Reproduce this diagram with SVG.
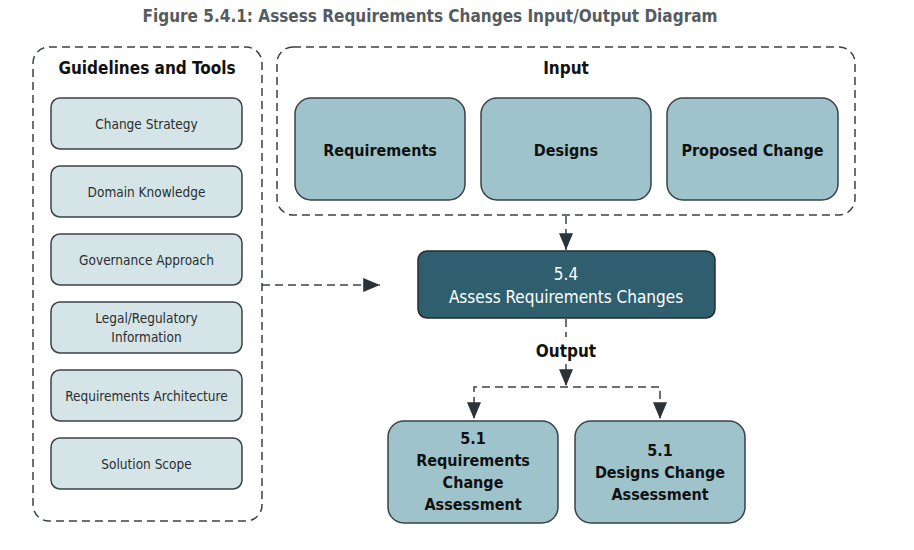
<svg xmlns="http://www.w3.org/2000/svg" width="914" height="550" viewBox="0 0 914 550">
<defs>
<marker id="ahb" viewBox="0 0 12 10" refX="12" refY="5" markerWidth="18" markerHeight="14" markerUnits="userSpaceOnUse" orient="auto">
<path d="M0,0 L12,5 L0,10 Z" fill="#2b3238"/>
</marker>
</defs>
<style>
.t{font-family:"Liberation Sans Narrow","DejaVu Sans Condensed","Liberation Sans",sans-serif;}
.title{font-size:17px;font-weight:bold;fill:#555b60;}
.hdr{font-size:17px;font-weight:bold;fill:#111;}
.cont{fill:none;stroke:#3a4247;stroke-width:1.5;stroke-dasharray:8 5;}
.gbox{fill:#d5e5e7;stroke:#3a4247;stroke-width:1.5;}
.gtxt{font-size:13.5px;fill:#2a2e31;}
.ibox{fill:#9fc3cb;stroke:#3a4247;stroke-width:1.5;}
.itxt{font-size:16px;font-weight:bold;fill:#111;}
.cbox{fill:#2f5f6e;stroke:#252b30;stroke-width:1.5;}
.ctxt{font-size:17px;fill:#fff;}
.conn{fill:none;stroke:#3a4247;stroke-width:1.5;stroke-dasharray:8 5;}
</style>
<rect width="914" height="550" fill="#fff"/>
<text class="t title" x="430" y="22" text-anchor="middle">Figure 5.4.1: Assess Requirements Changes Input/Output Diagram</text>

<g id="guidelines">
<rect class="cont" x="33" y="47" width="229" height="474" rx="16"/>
<text class="t hdr" x="147" y="74" text-anchor="middle">Guidelines and Tools</text>
</g>
<g id="g-change-strategy"><rect class="gbox" x="51" y="98" width="191" height="51" rx="9"/><text class="t gtxt" x="146.5" y="129" text-anchor="middle">Change Strategy</text></g>
<g id="g-domain-knowledge"><rect class="gbox" x="51" y="166" width="191" height="51" rx="9"/><text class="t gtxt" x="146.5" y="197" text-anchor="middle">Domain Knowledge</text></g>
<g id="g-governance"><rect class="gbox" x="51" y="234" width="191" height="51" rx="9"/><text class="t gtxt" x="146.5" y="265" text-anchor="middle">Governance Approach</text></g>
<g id="g-legal"><rect class="gbox" x="51" y="302" width="191" height="51" rx="9"/><text class="t gtxt" x="146.5" y="323" text-anchor="middle">Legal/Regulatory</text><text class="t gtxt" x="146.5" y="342" text-anchor="middle">Information</text></g>
<g id="g-req-arch"><rect class="gbox" x="51" y="370" width="191" height="51" rx="9"/><text class="t gtxt" x="146.5" y="401" text-anchor="middle">Requirements Architecture</text></g>
<g id="g-solution-scope"><rect class="gbox" x="51" y="438" width="191" height="51" rx="9"/><text class="t gtxt" x="146.5" y="469" text-anchor="middle">Solution Scope</text></g>

<g id="input">
<rect class="cont" x="277" y="47" width="578" height="168" rx="16"/>
<text class="t hdr" x="566" y="74" text-anchor="middle">Input</text>
</g>
<g id="in-requirements"><rect class="ibox" x="295" y="98" width="170" height="102" rx="16"/><text class="t itxt" x="380" y="156" text-anchor="middle">Requirements</text></g>
<g id="in-designs"><rect class="ibox" x="481" y="98" width="170" height="102" rx="16"/><text class="t itxt" x="566" y="156" text-anchor="middle">Designs</text></g>
<g id="in-proposed-change"><rect class="ibox" x="667" y="98" width="171" height="102" rx="16"/><text class="t itxt" x="752.5" y="156" text-anchor="middle">Proposed Change</text></g>

<g id="task">
<rect class="cbox" x="418" y="251" width="297" height="67" rx="9"/>
<text class="t ctxt" x="566" y="280" text-anchor="middle">5.4</text>
<text class="t ctxt" x="566" y="303" text-anchor="middle">Assess Requirements Changes</text>
</g>

<g id="out-req"><rect class="ibox" x="388" y="421" width="170" height="102" rx="16"/>
<text class="t itxt" x="473" y="444" text-anchor="middle">5.1</text>
<text class="t itxt" x="473" y="466" text-anchor="middle">Requirements</text>
<text class="t itxt" x="473" y="488" text-anchor="middle">Change</text>
<text class="t itxt" x="473" y="510" text-anchor="middle">Assessment</text></g>
<g id="out-designs"><rect class="ibox" x="575" y="421" width="170" height="102" rx="16"/>
<text class="t itxt" x="660" y="456" text-anchor="middle">5.1</text>
<text class="t itxt" x="660" y="478" text-anchor="middle">Designs Change</text>
<text class="t itxt" x="660" y="500" text-anchor="middle">Assessment</text></g>

<g id="connectors">
<path class="conn" d="M566,216 V250" marker-end="url(#ahb)"/>
<path class="conn" d="M262,285 H380" marker-end="url(#ahb)"/>
<path class="conn" d="M566,319 V337"/>
<text class="t hdr" x="566" y="357" text-anchor="middle">Output</text>
<path class="conn" d="M566,364 V386" marker-end="url(#ahb)"/>
<path class="conn" d="M474,418 V387 H660 V418"/>
<path d="M474,400 V419" stroke="none" fill="none" marker-end="url(#ahb)"/>
<path d="M660,400 V419" stroke="none" fill="none" marker-end="url(#ahb)"/>
</g>
</svg>
